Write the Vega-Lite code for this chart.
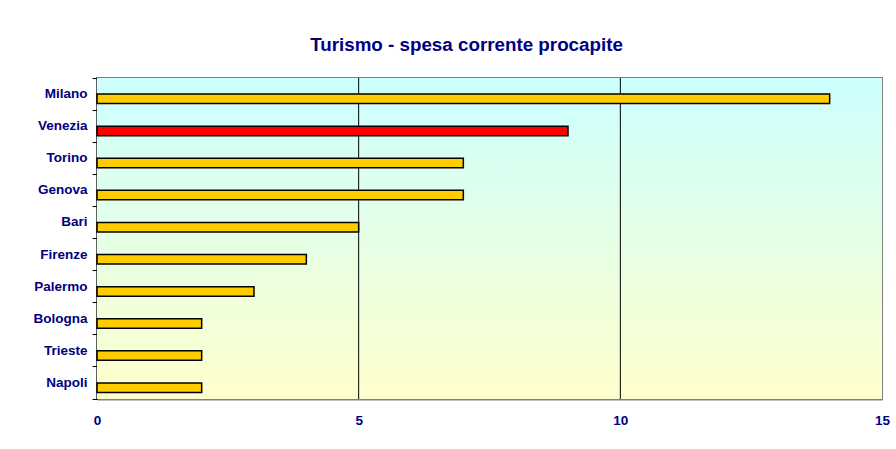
{
  "$schema": "https://vega.github.io/schema/vega-lite/v6.json",
  "width": 785,
  "height": 321,
  "autosize": "none",
  "padding": {"left": 97, "top": 78, "right": 14, "bottom": 50},
  "background": "white",
  "title": {
    "text": "Turismo - spesa corrente procapite",
    "font": "Liberation Sans",
    "fontSize": 18.8,
    "fontWeight": "bold",
    "color": "#000080",
    "anchor": "middle",
    "baseline": "alphabetic",
    "offset": 1,
    "dx": -23
  },
  "config": {
    "view": {"stroke": "#808080", "strokeWidth": 2},
    "font": "Liberation Sans"
  },
  "datasets": {
    "spesa": [
      {"citta": "Milano", "valore": 14, "gruppo": "altre"},
      {"citta": "Venezia", "valore": 9, "gruppo": "Venezia"},
      {"citta": "Torino", "valore": 7, "gruppo": "altre"},
      {"citta": "Genova", "valore": 7, "gruppo": "altre"},
      {"citta": "Bari", "valore": 5, "gruppo": "altre"},
      {"citta": "Firenze", "valore": 4, "gruppo": "altre"},
      {"citta": "Palermo", "valore": 3, "gruppo": "altre"},
      {"citta": "Bologna", "valore": 2, "gruppo": "altre"},
      {"citta": "Trieste", "valore": 2, "gruppo": "altre"},
      {"citta": "Napoli", "valore": 2, "gruppo": "altre"}
    ],
    "sfondo": [{"da": 0, "a": 15}],
    "griglia": [{"g": 5}, {"g": 10}]
  },
  "layer": [
    {
      "data": {"name": "sfondo"},
      "mark": {
        "type": "rect",
        "fill": {
          "gradient": "linear",
          "x1": 0, "y1": 0, "x2": 0, "y2": 1,
          "stops": [
            {"offset": 0, "color": "#CCFFFF"},
            {"offset": 1, "color": "#FFFFCC"}
          ]
        }
      },
      "encoding": {
        "x": {
          "field": "da",
          "type": "quantitative",
          "scale": {"domain": [0, 15], "nice": false},
          "axis": {
            "title": null,
            "values": [0, 5, 10, 15],
            "grid": false,
            "ticks": false,
            "domainColor": "#808080",
            "domainWidth": 2,
            "labelPadding": 14,
            "labelFont": "Liberation Sans",
            "labelFontSize": 13.5,
            "labelFontWeight": "bold",
            "labelColor": "#000080",
            "labelFlush": false
          }
        },
        "x2": {"field": "a"}
      }
    },
    {
      "data": {"name": "griglia"},
      "mark": {"type": "rule", "color": "#000000", "strokeWidth": 1},
      "encoding": {
        "x": {"field": "g", "type": "quantitative"}
      }
    },
    {
      "data": {"name": "spesa"},
      "mark": {"type": "bar", "height": 9.5, "yOffset": 4.75, "stroke": "#000000", "strokeWidth": 1.5},
      "encoding": {
        "y": {
          "field": "citta",
          "type": "nominal",
          "sort": null,
          "scale": {"paddingInner": 0, "paddingOuter": 0},
          "axis": {
            "title": null,
            "bandPosition": 1,
            "tickExtra": true,
            "tickSize": 5,
            "tickColor": "#000000",
            "tickWidth": 1,
            "domainColor": "#000000",
            "domainWidth": 1.5,
            "labelPadding": 5,
            "labelFont": "Liberation Sans",
            "labelFontSize": 13.5,
            "labelFontWeight": "bold",
            "labelColor": "#000080",
            "grid": false
          }
        },
        "x": {
          "field": "valore",
          "type": "quantitative"
        },
        "fill": {
          "field": "gruppo",
          "type": "nominal",
          "scale": {"domain": ["altre", "Venezia"], "range": ["#FFCC00", "#FF0000"]},
          "legend": null
        }
      }
    }
  ]
}
